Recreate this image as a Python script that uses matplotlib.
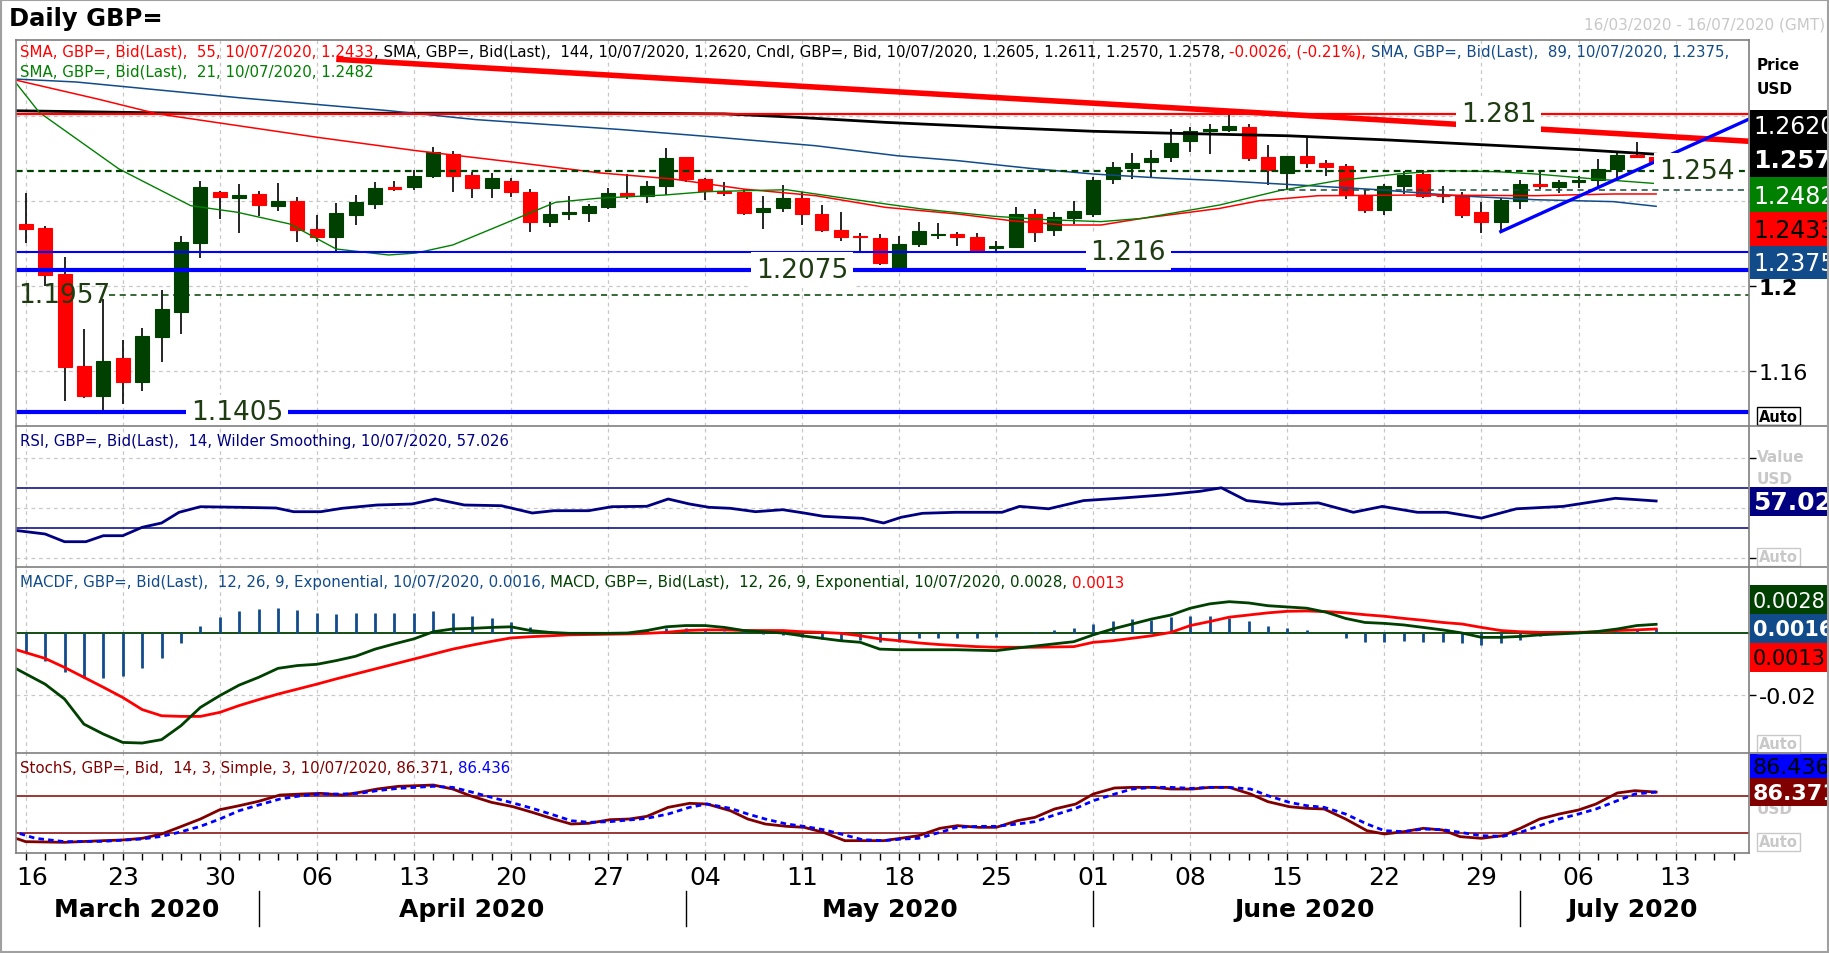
import matplotlib
matplotlib.use("Agg")
import matplotlib.pyplot as plt
from matplotlib.patches import Rectangle
from matplotlib.lines import Line2D
from matplotlib.transforms import ScaledTranslation

# ---------------- data (trading-day index 0 = 16/03/2020) ----------------
opens = [1.2292, 1.2273, 1.2056, 1.1625, 1.1484, 1.1661, 1.1550, 1.1762, 1.1876, 1.2202,
         1.2442, 1.2416, 1.2433, 1.2378, 1.2400, 1.2268, 1.2232, 1.2334, 1.2386, 1.2466,
         1.2466, 1.2519, 1.2621, 1.2522, 1.2460, 1.2494, 1.2441, 1.2300, 1.2339, 1.2344,
         1.2373, 1.2436, 1.2425, 1.2472, 1.2605, 1.2504, 1.2449, 1.2444, 1.2350, 1.2367,
         1.2414, 1.2339, 1.2264, 1.2237, 1.2226, 1.2083, 1.2198, 1.2242, 1.2245, 1.2231,
         1.2180, 1.2185, 1.2339, 1.2265, 1.2322, 1.2339, 1.2504, 1.2554, 1.2582, 1.2609,
         1.2684, 1.2728, 1.2736, 1.2747, 1.2605, 1.2532, 1.2610, 1.2579, 1.2563, 1.2425,
         1.2359, 1.2472, 1.2527, 1.2425, 1.2428, 1.2347, 1.2303, 1.2402, 1.2480, 1.2466,
         1.2488, 1.2499, 1.2550, 1.2615, 1.2605]
highs = [1.2436, 1.2284, 1.2135, 1.1798, 1.1939, 1.1747, 1.1801, 1.1981, 1.2235, 1.2494,
         1.2445, 1.2480, 1.2447, 1.2485, 1.2417, 1.2334, 1.2391, 1.2428, 1.2491, 1.2494,
         1.2546, 1.2653, 1.2637, 1.2538, 1.2532, 1.2507, 1.2456, 1.2394, 1.2422, 1.2384,
         1.2461, 1.2527, 1.2496, 1.2648, 1.2608, 1.2506, 1.2488, 1.2456, 1.2422, 1.2475,
         1.2444, 1.2381, 1.2347, 1.2248, 1.2245, 1.2237, 1.2303, 1.2296, 1.2253, 1.2248,
         1.2213, 1.2373, 1.2362, 1.2350, 1.2402, 1.2511, 1.2582, 1.2626, 1.2640, 1.2739,
         1.2747, 1.2762, 1.2814, 1.2762, 1.2664, 1.2612, 1.2695, 1.2595, 1.2573, 1.2453,
         1.2480, 1.2543, 1.2547, 1.2469, 1.2444, 1.2397, 1.2413, 1.2500, 1.2535, 1.2500,
         1.2519, 1.2598, 1.2632, 1.2676, 1.2611]
lows = [1.2202, 1.2002, 1.1460, 1.1471, 1.1413, 1.1445, 1.1507, 1.1641, 1.1774, 1.2132,
        1.2315, 1.2249, 1.2331, 1.2355, 1.2209, 1.2205, 1.2165, 1.2287, 1.2362, 1.2449,
        1.2452, 1.2507, 1.2441, 1.2413, 1.2413, 1.2420, 1.2253, 1.2276, 1.2312, 1.2303,
        1.2362, 1.2409, 1.2391, 1.2428, 1.2488, 1.2405, 1.2425, 1.2334, 1.2268, 1.2350,
        1.2287, 1.2256, 1.2213, 1.2163, 1.2100, 1.2075, 1.2182, 1.2221, 1.2190, 1.2162,
        1.2162, 1.2177, 1.2209, 1.2237, 1.2292, 1.2326, 1.2480, 1.2504, 1.2508, 1.2585,
        1.2632, 1.2621, 1.2723, 1.2590, 1.2475, 1.2453, 1.2554, 1.2516, 1.2409, 1.2344,
        1.2334, 1.2433, 1.2413, 1.2391, 1.2318, 1.2249, 1.2256, 1.2362, 1.2456, 1.2438,
        1.2460, 1.2464, 1.2504, 1.2604, 1.2570]
closes = [1.2268, 1.2053, 1.1617, 1.1484, 1.1649, 1.1550, 1.1765, 1.1892, 1.2205, 1.2464,
          1.2420, 1.2428, 1.2381, 1.2400, 1.2265, 1.2232, 1.2344, 1.2394, 1.2461, 1.2456,
          1.2518, 1.2629, 1.2519, 1.2460, 1.2507, 1.2441, 1.2300, 1.2339, 1.2347, 1.2378,
          1.2436, 1.2425, 1.2469, 1.2601, 1.2504, 1.2449, 1.2438, 1.2344, 1.2367, 1.2413,
          1.2339, 1.2264, 1.2232, 1.2232, 1.2108, 1.2198, 1.2257, 1.2244, 1.2229, 1.2166,
          1.2188, 1.2339, 1.2256, 1.2326, 1.2353, 1.2499, 1.2558, 1.2579, 1.2602, 1.2673,
          1.2728, 1.2739, 1.2753, 1.2602, 1.2547, 1.2610, 1.2579, 1.2562, 1.2428, 1.2359,
          1.2469, 1.2522, 1.2425, 1.2422, 1.2334, 1.2303, 1.2405, 1.2478, 1.2469, 1.2488,
          1.2499, 1.2551, 1.2616, 1.2607, 1.2578]

sma21_x = [-0.8, 0.7, 4.8, 8.5, 10.9, 13.6, 16, 18.7, 20.1, 22, 24.2, 27.3, 29.5, 32.9, 35.1, 39.2,
           42.5, 46.2, 49.9, 52.6, 55.4, 57.5, 61.5, 64.6, 67.6, 70.7, 72.9, 75.8, 77.8, 80.8, 84]
sma21_y = [1.2990, 1.2817, 1.2551, 1.2378, 1.2347, 1.2292, 1.2174, 1.2146, 1.2155, 1.2193, 1.2276,
           1.2394, 1.2413, 1.2428, 1.2444, 1.2453, 1.2409, 1.2362, 1.2328, 1.2312, 1.2303, 1.2318,
           1.2381, 1.2449, 1.2496, 1.2527, 1.2543, 1.2538, 1.2527, 1.2504, 1.2482]
sma55_x = [-0.8, 3.7, 6.8, 10.9, 15, 20.1, 25.2, 29.6, 33.3, 37, 40.7, 44.3, 48, 50.8, 53.5, 55.4,
           57.5, 61.5, 63.6, 66.6, 71.7, 77.8, 81.8, 84]
sma55_y = [1.2975, 1.2880, 1.2810, 1.2755, 1.2700, 1.2637, 1.2582, 1.2532, 1.2504, 1.2456, 1.2425,
           1.2370, 1.2339, 1.2307, 1.2287, 1.2287, 1.2318, 1.2365, 1.2402, 1.2425, 1.2428, 1.2425,
           1.2433, 1.2433]
sma89_x = [-0.8, 2.6, 11.1, 18.7, 23.2, 30.7, 35.1, 40.7, 44.9, 48, 51.7, 55, 58.5, 61.5, 65.6,
           69.7, 73.7, 77.8, 81.8, 84]
sma89_y = [1.2975, 1.2960, 1.2885, 1.2825, 1.2783, 1.2736, 1.2704, 1.2660, 1.2613, 1.2590, 1.2554,
           1.2527, 1.2508, 1.2496, 1.2475, 1.2453, 1.2425, 1.2406, 1.2397, 1.2375]
sma144_x = [-0.8, 8.9, 29.6, 36, 39.7, 44.3, 49.9, 55, 58.5, 65, 70, 75, 80, 84]
sma144_y = [1.2825, 1.2812, 1.2814, 1.2810, 1.2794, 1.2770, 1.2747, 1.2728, 1.2720, 1.2707, 1.2688,
            1.2665, 1.2642, 1.2620]

# drawn studies: (day, price) end points
down_trend = [(16.0, 1.3067), (88.8, 1.2681)]
up_trend = [(76.0, 1.2256), (88.8, 1.2786)]
levels = [1.281, 1.254, 1.216, 1.2075, 1.1957, 1.1405]
level_texts = ["1.281", "1.254", "1.216", "1.2075", "1.1957", "1.1405"]
level_text_day = [75.9, 86.1, 56.8, 40.0, -0.4, 10.9]
mid_level = 1.2453

rsi_x = [-0.8, -0.4, 1, 2, 3.1, 4, 5, 6, 7, 7.9, 9, 11, 12.9, 13.8, 15.2, 16.3, 18.1, 19.9, 21.1,
         22.6, 24.5, 26.1, 27.2, 29, 30.2, 32, 33.1, 34.2, 35.2, 36.3, 37.6, 39, 40.1, 41.1, 43.1,
         44.2, 45.1, 46.2, 47.9, 50.3, 51.2, 52.7, 54.5, 56.3, 58.7, 60.5, 61.6, 62.9, 64.7, 66.6,
         68.4, 69.9, 71.7, 73.2, 75, 76.8, 79.2, 81.9, 82.8, 84]
rsi_y = [28, 27.3, 24, 16.3, 16.3, 22.3, 22.3, 30.7, 35, 45.7, 51.3, 50.7, 50, 46.3, 46.3, 49.7, 53,
         54, 59, 53, 52.3, 45, 47.3, 47.3, 51.3, 51.7, 59, 54, 50.7, 49.7, 46.3, 48.3, 45, 41.7,
         39.7, 35, 40.7, 44.7, 45.7, 45.7, 51.6, 49.2, 57.4, 59.7, 63.2, 66.7, 70.2, 57.4, 53.9,
         55.1, 45.7, 51.6, 45.7, 45.7, 39.9, 49.2, 51.6, 59.7, 58.6, 57.0]

macd_hist = [-0.0065, -0.0089, -0.0125, -0.0146, -0.0146, -0.0138, -0.0114, -0.0082, -0.0032, 0.0024,
             0.0051, 0.0070, 0.0077, 0.0081, 0.0074, 0.0065, 0.0061, 0.0065, 0.0065, 0.0065,
             0.0065, 0.0071, 0.0065, 0.0054, 0.0047, 0.0037, 0.0018, 0.0008, 0.0004, 0.0004,
             0.0003, 0.0003, 0.0009, 0.0016, 0.0016, 0.0014, 0.0008, 0.0002, -0.0002, -0.0006,
             -0.0012, -0.0018, -0.0022, -0.0022, -0.0030, -0.0028, -0.0017, -0.0017, -0.0015, -0.0015,
             -0.0014, -0.0001, 0.0004, 0.0011, 0.0016, 0.0029, 0.0039, 0.0045, 0.0041, 0.0052,
             0.0055, 0.0055, 0.0047, 0.0039, 0.0023, 0.0016, 0.0011, 0.0000, -0.0015, -0.0028,
             -0.0028, -0.0025, -0.0028, -0.0028, -0.0032, -0.0038, -0.0032, -0.0022, -0.0009, -0.0003,
             0.0000, 0.0004, 0.0008, 0.0013, 0.0016]
macd_x = [-0.8, 1, 2, 3, 4, 5, 6, 7, 8, 9, 10, 11, 12, 13, 14, 15, 16, 17, 18, 19, 20, 21, 22, 23, 24,
          25, 26, 27, 28, 29, 30, 31, 32, 33, 34, 35, 36, 37, 38, 39, 40, 41, 42, 43, 44, 45, 46, 48,
          50, 51, 53, 54, 55, 56, 57, 58, 59, 60, 61, 62, 63, 64, 65, 66, 67, 68, 69, 70, 71, 72, 73,
          74, 75, 76, 77, 78, 79, 80, 81, 82, 83, 84]
macd_y = [-0.0105, -0.0165, -0.0213, -0.0294, -0.0326, -0.0353, -0.0355, -0.0344, -0.0299, -0.0240,
          -0.0202, -0.0168, -0.0143, -0.0114, -0.0105, -0.0101, -0.0089, -0.0075, -0.0052, -0.0035,
          -0.0019, 0.0004, 0.0013, 0.0015, 0.0018, 0.0020, 0.0008, 0.0002, -0.0001, -0.0001,
          -0.0001, 0.0000, 0.0008, 0.0020, 0.0024, 0.0024, 0.0018, 0.0008, 0.0004, 0.0000,
          -0.0009, -0.0017, -0.0025, -0.0030, -0.0052, -0.0054, -0.0054, -0.0054, -0.0057, -0.0049,
          -0.0035, -0.0028, -0.0006, 0.0013, 0.0029, 0.0045, 0.0058, 0.0080, 0.0094, 0.0101,
          0.0097, 0.0088, 0.0084, 0.0080, 0.0067, 0.0047, 0.0034, 0.0031, 0.0026, 0.0018,
          0.0010, 0.0000, -0.0014, -0.0014, -0.0011, -0.0006, -0.0003, 0.0000, 0.0005, 0.0013,
          0.0024, 0.0028]
signal_x = [-0.8, 1, 2, 3, 4, 5, 6, 7, 8, 9, 10, 11, 12, 13, 14, 15, 16, 17, 18, 19, 20, 21, 22, 23,
            24, 25, 26, 27, 28, 29, 30, 31, 32, 33, 34, 35, 36, 37, 38, 39, 40, 41, 42, 43, 44, 45,
            46, 47, 49, 50, 52, 54, 55, 56, 57, 58, 59, 60, 61, 62, 63, 64, 65, 66, 67, 68, 69, 70,
            71, 72, 73, 74, 75, 76, 77, 78, 79, 80, 81, 82, 83, 84]
signal_y = [-0.0048, -0.0082, -0.0111, -0.0143, -0.0175, -0.0208, -0.0247, -0.0267, -0.0269, -0.0269,
            -0.0256, -0.0234, -0.0215, -0.0197, -0.0181, -0.0165, -0.0148, -0.0132, -0.0116, -0.0100,
            -0.0084, -0.0068, -0.0052, -0.0039, -0.0027, -0.0016, -0.0012, -0.0009, -0.0006, -0.0005,
            -0.0004, -0.0003, -0.0001, 0.0002, 0.0008, 0.0010, 0.0010, 0.0008, 0.0008, 0.0008,
            0.0004, 0.0002, -0.0001, -0.0009, -0.0019, -0.0025, -0.0032, -0.0037, -0.0044, -0.0046,
            -0.0046, -0.0044, -0.0030, -0.0025, -0.0017, -0.0009, 0.0002, 0.0024, 0.0037, 0.0051,
            0.0058, 0.0065, 0.0070, 0.0071, 0.0069, 0.0065, 0.0059, 0.0054, 0.0047, 0.0041,
            0.0034, 0.0029, 0.0018, 0.0008, 0.0004, 0.0002, 0.0002, 0.0002, 0.0004, 0.0008,
            0.0010, 0.0013]

stk_x = [-0.8, -0.4, 0, 2, 4, 5, 6, 7, 7.9, 9, 10, 11, 12, 13.1, 14.2, 15.2, 16.3, 17.2, 18.1, 19.2,
         20.1, 21, 22, 22.9, 24, 25.1, 26.1, 27.2, 28.1, 29, 30.1, 31.1, 32, 33.1, 34.2, 35.1, 36.3,
         37.2, 38.1, 39.2, 40.1, 41.1, 42.2, 43.1, 44.2, 45.2, 46, 47.1, 48, 49.1, 50, 51.1, 52, 53,
         54.1, 55, 56.1, 57, 58.1, 59, 60.1, 61, 62, 63.1, 64, 65.1, 66, 66.9, 68, 69.1, 70, 71, 72,
         73, 73.9, 75, 76.1, 77, 78, 79, 80, 80.9, 82, 82.9, 84]
stk_y = [12, 10.3, 6, 4.9, 7.6, 8.7, 11.4, 18.4, 29.2, 42.7, 57.8, 64.3, 71.4, 81.6, 83.2, 84.3,
         81.6, 85.9, 91.3, 95.7, 96.7, 97.8, 91.3, 80.5, 69.7, 62.7, 53.5, 42.7, 34.6, 35.7, 41.6,
         42.7, 47, 61.6, 68.1, 67, 56.2, 42.7, 34.6, 30.8, 29.2, 21.1, 7.6, 7.6, 7.6, 12, 15.7,
         27.6, 31.9, 29.2, 29.2, 40, 45.4, 58.9, 67, 83.2, 93, 94, 94, 91.3, 91.3, 94, 94, 83.2,
         70.8, 62.7, 60, 58.9, 42.7, 23.8, 18.4, 22.2, 27.6, 24.9, 14.1, 11.4, 15.7, 27.6, 42.7,
         50.8, 57.3, 67, 84.9, 88.6, 86.4]
std_x = [-0.8, -0.4, 0.5, 2, 4, 6, 7, 7.9, 9, 10, 11, 12, 13.1, 14.2, 15.2, 16.3, 17.2, 18.1, 19.2,
         20.1, 21, 22, 22.9, 24, 25.1, 26.1, 27.2, 28.1, 29, 30.1, 31.1, 32, 33.1, 34.2, 35.1, 36.3,
         37.2, 38.1, 39.2, 40.1, 41.1, 42.2, 43.1, 44.2, 45.2, 46, 47.1, 48, 49.1, 50, 51.1, 52, 53,
         54.1, 55, 56.1, 57, 58.1, 59, 60.1, 61, 62, 63.1, 64, 65.1, 66, 66.9, 68, 69.1, 70, 71, 72,
         73, 73.9, 75, 76.1, 77, 78, 79, 80, 80.9, 82, 82.9, 84]
std_y = [22, 20, 11.4, 6, 6.5, 10.3, 14.6, 21.1, 30.8, 42.7, 56.2, 65.4, 75.1, 80.5, 83.2, 83.2,
         84.3, 88.6, 92.4, 94, 95.7, 94, 87, 77.8, 68.7, 60, 49.2, 40, 37.3, 38.4, 41.1, 43.8, 50.8,
         61.6, 67, 60, 50.8, 42.7, 34.6, 30.8, 25.4, 16.8, 9.2, 7.6, 10.3, 11.4, 21.1, 29.2, 30.8,
         30.8, 34.6, 38.4, 49.2, 60, 72.4, 83.2, 91.3, 94, 94, 92.4, 94, 94, 91.3, 80.5, 69.7, 64.3,
         61.6, 50.8, 34.6, 23.8, 22.2, 26.5, 25.4, 21.1, 15.7, 14.6, 21.1, 31.9, 42.7, 50.8, 58.9,
         72.4, 83.2, 86.4]

day_labels = ["16", "23", "30", "06", "13", "20", "27", "04", "11", "18", "25", "01", "08", "15",
              "22", "29", "06", "13"]
months = ["March 2020", "April 2020", "May 2020", "June 2020", "July 2020"]
month_center = [5.7, 23.0, 44.5, 65.9, 82.8]
month_breaks = [12, 34, 55, 77]

# ---------------- layout helpers ----------------
W, H = 1829, 954
fig = plt.figure(figsize=(W / 100, H / 100), dpi=100)
fig.patch.set_facecolor("white")


def fx(px):
    return px / W


def fy(py):
    return 1 - py / H


PL, PR = 16, 1749
X0, DX = 25.7, 19.41
XLIM = ((PL - X0) / DX, (PR - X0) / DX)
days = list(range(len(closes)))
mondays = list(range(0, 86, 5))
GRID = "#c8c8c8"


def panel(top, bot, ylim):
    ax = fig.add_axes([fx(PL), fy(bot), (PR - PL) / W, (bot - top) / H])
    ax.set_xlim(*XLIM)
    ax.set_ylim(*ylim)
    ax.patch.set_visible(False)
    for s in ax.spines.values():
        s.set_visible(False)
    ax.tick_params(axis="x", which="both", bottom=False, labelbottom=False)
    ax.yaxis.tick_right()
    ax.tick_params(axis="y", right=True, left=False, length=5, width=1,
                   labelsize=16, pad=2)
    ax.vlines(mondays, ylim[0], ylim[1], colors=GRID, linestyles=(0, (3, 3)), lw=0.9, zorder=0)
    return ax


def hgrid(ax, vals):
    for v in vals:
        ax.axhline(v, color=GRID, ls=(0, (3, 3)), lw=0.9, zorder=0)


def rbox(top, bot, bg, txt, fg, bold=False, size=17):
    fig.add_artist(Rectangle((fx(PR + 1), fy(bot)), (W - PR - 1) / W, (bot - top) / H,
                             transform=fig.transFigure, facecolor=bg, edgecolor="none", zorder=30))
    fig.text(fx(PR + 4), fy((top + bot) / 2 + 1), txt, color=fg, fontsize=size,
             fontweight="bold" if bold else "normal", va="center", ha="left", zorder=31)


def legend_row(x, y, parts, size=10.8):
    r = fig.canvas.get_renderer()
    for s, c in parts:
        t = fig.text(fx(x), fy(y), s, color=c, fontsize=size, va="center", ha="left", zorder=40)
        x += t.get_window_extent(renderer=r).width


def auto_box(y, color):
    fig.text(fx(1759), fy(y), "Auto", color=color, fontsize=10.5, fontweight="bold",
             va="center", ha="left", zorder=32,
             bbox=dict(boxstyle="square,pad=0.12", facecolor="white", edgecolor=color, lw=1))


LVL = "#1f3b12"
GREEN = "#004000"
NAVY = "#000080"
MBLUE = "#114b8a"

# ---------------- main price panel ----------------
ax = panel(41, 427, (1.13412, 1.31576))
hgrid(ax, [1.16, 1.2, 1.24, 1.28])
ax.set_yticks([1.16, 1.2, 1.24, 1.28])
ax.set_yticklabels(["1.16", "1.2", "", ""])
for lab in ax.get_yticklabels():
    if lab.get_text() == "1.2":
        lab.set_fontweight("bold")

colors = [GREEN if c >= o else "#ff0000" for o, c in zip(opens, closes)]
ax.vlines(days, lows, highs, colors="black", lw=1.2, zorder=3)
ax.bar(days, [c - o for o, c in zip(opens, closes)], bottom=opens, width=0.72,
       color=colors, edgecolor=colors, linewidth=0.8, zorder=4)

ax.plot(sma144_x, sma144_y, color="black", lw=2.0, zorder=5)
ax.plot(sma89_x, sma89_y, color=MBLUE, lw=1.1, zorder=5)
ax.plot(sma55_x, sma55_y, color="#ff0000", lw=1.1, zorder=5)
ax.plot(sma21_x, sma21_y, color="#008000", lw=1.0, zorder=5)

ax.axhline(levels[0], color="#ff0000", lw=1.6, zorder=6)
ax.axhline(levels[1], color=GREEN, lw=1.6, ls=(0, (3, 2)), zorder=6)
ax.axhline(levels[2], color="#0000ff", lw=1.5, zorder=6)
ax.axhline(levels[3], color="#0000ff", lw=3.0, zorder=6)
ax.plot([4.3, XLIM[1]], [levels[4], levels[4]], color=GREEN, lw=1.1, ls=(0, (4, 3)), zorder=6)
ax.axhline(levels[5], color="#0000ff", lw=3.0, zorder=6)
ax.plot([64.5, XLIM[1]], [mid_level, mid_level], color="#1a4a3a", lw=1.1, ls=(0, (4, 3)), zorder=6)

ax.plot([p[0] for p in down_trend], [p[1] for p in down_trend], color="#ff0000", lw=4, zorder=7,
        solid_capstyle="butt")
ax.plot([p[0] for p in up_trend], [p[1] for p in up_trend], color="#0000ff", lw=2.4, zorder=7)

for v, t, d in zip(levels, level_texts, level_text_day):
    if t == "1.1957":
        ax.text(d, v, t, color=LVL, fontsize=19, ha="left", va="center", zorder=8)
    else:
        ax.text(d, v, t, color=LVL, fontsize=19, ha="center", va="center", zorder=8,
                bbox=dict(boxstyle="square,pad=0.18", facecolor="white", edgecolor="none"))

# ---------------- RSI ----------------
ax_r = panel(427, 568, (-9, 132))
hgrid(ax_r, [0, 50, 100])
ax_r.set_yticks([0, 50, 100])
ax_r.set_yticklabels(["", "", ""])
ax_r.axhline(70, color=NAVY, lw=1.1, zorder=2)
ax_r.axhline(30, color=NAVY, lw=1.1, zorder=2)
ax_r.plot(rsi_x, rsi_y, color=NAVY, lw=2.0, zorder=5)

# ---------------- MACD ----------------
ax_m = panel(568, 754, (-0.03871, 0.02129))
hgrid(ax_m, [-0.02])
ax_m.set_yticks([-0.02, 0])
ax_m.set_yticklabels(["-0.02", ""])
ax_m.axhline(0, color=GREEN, lw=1.3, zorder=2)
ax_m.vlines(days, 0, macd_hist, colors=MBLUE, lw=2.0, zorder=3)
ax_m.plot(signal_x, signal_y, color="#ff0000", lw=2.0, zorder=5)
ax_m.plot(macd_x, macd_y, color=GREEN, lw=2.0, zorder=6)

# ---------------- Stochastic ----------------
ax_s = panel(754, 854, (-12.4, 149.7))
ax_s.set_yticks([])
ax_s.axhline(80, color="#800000", lw=1.1, zorder=2)
ax_s.axhline(20, color="#800000", lw=1.1, zorder=2)
ax_s.plot(stk_x, stk_y, color="#800000", lw=2.0, zorder=5)
ax_s.plot(std_x, std_y, color="#0000ff", lw=2.0, ls=(0, (2, 1.5)), zorder=6)
ax_s.set_xticks(mondays)
ax_s.set_xticklabels(day_labels)
ax_s.set_xticks(list(range(0, 89)), minor=True)
ax_s.tick_params(axis="x", which="both", bottom=True, labelbottom=True, length=5, width=1,
                 labelsize=18, pad=4)
first = ax_s.get_xticklabels()[0]
first.set_transform(first.get_transform() + ScaledTranslation(0.06, 0, fig.dpi_scale_trans))
for c, m in zip(month_center, months):
    ax_s.text(c, -0.56, m, transform=ax_s.get_xaxis_transform(), ha="center", va="center",
              fontsize=18, fontweight="bold")
for b in month_breaks:
    ax_s.plot([b, b], [-0.38, -0.73], transform=ax_s.get_xaxis_transform(), color="black",
              lw=1, clip_on=False)

# ---------------- frames ----------------
FR = "#7f7f7f"
for (x1, y1, x2, y2) in [(PL, 41, PR, 41), (PL, 41, PL, 854), (PR, 41, PR, 854),
                         (PL, 427, W, 427), (PL, 568, W, 568), (PL, 754, W, 754),
                         (PL, 854, PR, 854)]:
    fig.add_artist(Line2D([fx(x1), fx(x2)], [fy(y1), fy(y2)], color=FR, lw=1.2, zorder=35))
fig.add_artist(Rectangle((0.0005, 0.001), 0.999, 0.998, transform=fig.transFigure,
                         facecolor="none", edgecolor="#a0a0a0", lw=1.5, zorder=50))

# ---------------- texts ----------------
fig.text(fx(9), fy(19), "Daily GBP=", fontsize=17.5, fontweight="bold", va="center", ha="left")
fig.text(fx(1825), fy(25), "16/03/2020 - 16/07/2020 (GMT)", color="#c8c8c8", fontsize=11,
         va="center", ha="right")
fig.text(fx(1757), fy(66), "Price", fontsize=11, fontweight="bold", va="center")
fig.text(fx(1757), fy(89), "USD", fontsize=11, fontweight="bold", va="center")
fig.text(fx(1757), fy(457), "Value", fontsize=11, fontweight="bold", color="#c8c8c8", va="center")
fig.text(fx(1757), fy(480), "USD", fontsize=11, fontweight="bold", color="#c8c8c8", va="center")
fig.text(fx(1757), fy(810), "USD", fontsize=11, fontweight="bold", color="#c8c8c8", va="center",
         zorder=29)
auto_box(417, "black")
auto_box(558, "#c8c8c8")
auto_box(745, "#c8c8c8")
auto_box(843, "#c8c8c8")

rbox(111, 142, "black", "1.2620", "white", size=17)
rbox(142, 178, "black", "1.257", "white", bold=True, size=18)
rbox(178, 213, "#008000", "1.2482", "white", size=17)
rbox(213, 247, "#ff0000", "1.2433", "black", size=17)
rbox(247, 280, MBLUE, "1.2375", "white", size=17)
rbox(488, 517, NAVY, "57.026", "white", bold=True, size=18)
rbox(586, 615, GREEN, "0.0028", "white", size=15)
rbox(615, 644, MBLUE, "0.0016", "white", bold=True, size=15)
rbox(644, 673, "#ff0000", "0.0013", "black", size=15)
rbox(755, 779, "#0000ff", "86.436", "black", size=16)
rbox(779, 807, "#800000", "86.371", "white", bold=True, size=16)

legend_row(20, 52, [("SMA, GBP=, Bid(Last),  55, 10/07/2020, 1.2433", "#ff0000"),
                    (", SMA, GBP=, Bid(Last),  144, 10/07/2020, 1.2620, Cndl, GBP=, Bid, "
                     "10/07/2020, 1.2605, 1.2611, 1.2570, 1.2578, ", "black"),
                    ("-0.0026, (-0.21%), ", "#ff0000"),
                    ("SMA, GBP=, Bid(Last),  89, 10/07/2020, 1.2375,", MBLUE)])
legend_row(20, 72, [("SMA, GBP=, Bid(Last),  21, 10/07/2020, 1.2482", "#008000")])
legend_row(20, 442, [("RSI, GBP=, Bid(Last),  14, Wilder Smoothing, 10/07/2020, 57.026", NAVY)])
legend_row(20, 583, [("MACDF, GBP=, Bid(Last),  12, 26, 9, Exponential, 10/07/2020, 0.0016, ", MBLUE),
                     ("MACD, GBP=, Bid(Last),  12, 26, 9, Exponential, 10/07/2020, 0.0028, ", GREEN),
                     ("0.0013", "#ff0000")])
legend_row(20, 769, [("StochS, GBP=, Bid,  14, 3, Simple, 3, 10/07/2020, 86.371, ", "#800000"),
                     ("86.436", "#0000ff")])

fig.savefig("out.png", dpi=100, facecolor="white")
